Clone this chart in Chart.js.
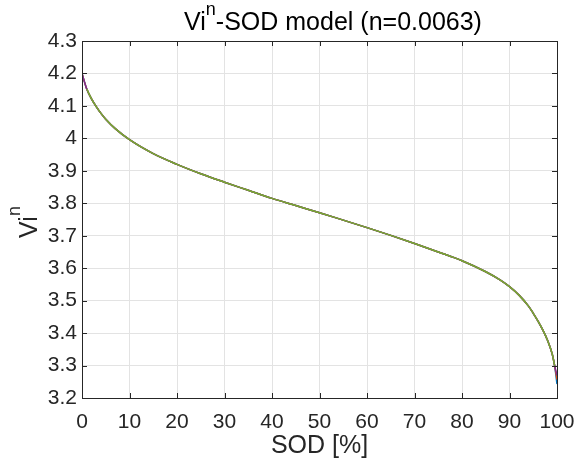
<!DOCTYPE html>
<html>
<head>
<meta charset="utf-8">
<script src="https://cdn.jsdelivr.net/npm/chart.js@4/dist/chart.umd.min.js"></script>
<style>
    body { margin: 0; background: #fff; }
    #wrap { width: 588px; height: 461px; }
</style>
</head>
<body>
<div id="wrap"><canvas id="viChart" width="588" height="461"></canvas></div>
<script>
// SOD [%] sample points
const sod = [0, 1, 2, 3, 4, 5, 7, 10, 15, 20, 25, 30, 35, 40, 45, 50, 55, 60, 65, 70,
    75, 80, 85, 88, 90, 92, 94, 95, 96, 97, 98, 99, 99.5, 100];
// Vi^n model curve (last point left out, see viEnd)
const viModel = [4.200, 4.152, 4.122, 4.098, 4.077, 4.059, 4.030, 3.996, 3.953, 3.920,
    3.891, 3.865, 3.840, 3.815, 3.793, 3.771, 3.748, 3.725, 3.701, 3.676,
    3.650, 3.623, 3.589, 3.564, 3.543, 3.517, 3.483, 3.461, 3.437, 3.410,
    3.378, 3.335, 3.300];
// where the overlapping curves end at SOD 100 (purple, orange, blue)
const viEnd = [3.270, 3.257, 3.243];
const seriesColors = ['#7E2F8E', '#D95319', '#0072BD'];
const yTicks = [3.2, 3.3, 3.4, 3.5, 3.6, 3.7, 3.8, 3.9, 4, 4.1, 4.2, 4.3];
const xTicks = [0, 10, 20, 30, 40, 50, 60, 70, 80, 90, 100];

const fontName = '"Liberation Sans", Arial, sans-serif';
const ink = '#262626';

// green curve first so it is drawn on top, without the first and last sample
const datasets = [{
    data: sod.slice(1, viModel.length).map((x, j) => ({ x: x, y: viModel[j + 1] })),
    borderColor: '#77AC30',
    borderWidth: 1.5,
    pointRadius: 0,
    cubicInterpolationMode: 'monotone'
}];
viEnd.forEach((end, i) => {
    datasets.push({
        data: sod.map((x, j) => ({ x: x, y: j < viModel.length ? viModel[j] : end })),
        borderColor: seriesColors[i],
        borderWidth: 1.5,
        pointRadius: 0,
        cubicInterpolationMode: 'monotone'
    });
});

// box, inward ticks, title and y label like a matlab figure
const matlabAxes = {
    id: 'matlabAxes',
    afterDraw(chart) {
        const ctx = chart.ctx;
        const a = chart.chartArea;
        const xs = chart.scales.x, ys = chart.scales.y;
        ctx.save();
        ctx.strokeStyle = ink;
        ctx.lineWidth = 1;
        ctx.strokeRect(Math.round(a.left) + 0.5, Math.round(a.top) + 0.5,
            Math.round(a.right - a.left), Math.round(a.bottom - a.top));
        ctx.beginPath();
        xTicks.forEach(v => {
            const px = Math.round(xs.getPixelForValue(v)) + 0.5;
            ctx.moveTo(px, a.bottom); ctx.lineTo(px, a.bottom - 5);
            ctx.moveTo(px, a.top); ctx.lineTo(px, a.top + 5);
        });
        yTicks.forEach(v => {
            const py = Math.round(ys.getPixelForValue(v)) + 0.5;
            ctx.moveTo(a.left, py); ctx.lineTo(a.left + 5, py);
            ctx.moveTo(a.right, py); ctx.lineTo(a.right - 5, py);
        });
        ctx.stroke();

        // title with superscript
        ctx.fillStyle = '#000';
        ctx.textBaseline = 'alphabetic';
        ctx.textAlign = 'left';
        const big = '25px ' + fontName, small = '18px ' + fontName;
        ctx.font = big;
        const w1 = ctx.measureText('Vi').width;
        const w3 = ctx.measureText('-SOD model (n=0.0063)').width;
        ctx.font = small;
        const w2 = ctx.measureText('n').width;
        const tx = 333 - (w1 + w2 + w3) / 2;
        ctx.font = big;
        ctx.fillText('Vi', tx, 30);
        ctx.font = small;
        ctx.fillText('n', tx + w1, 15);
        ctx.font = big;
        ctx.fillText('-SOD model (n=0.0063)', tx + w1 + w2, 30);

        // y axis label, rotated
        ctx.translate(37, 222);
        ctx.rotate(-Math.PI / 2);
        ctx.fillStyle = ink;
        ctx.font = big;
        const lw1 = ctx.measureText('Vi').width;
        ctx.font = small;
        const lw2 = ctx.measureText('n').width;
        const lx = -(lw1 + lw2) / 2;
        ctx.font = big;
        ctx.fillText('Vi', lx, 0);
        ctx.font = small;
        ctx.fillText('n', lx + lw1, -17);
        ctx.restore();
    }
};

new Chart(document.getElementById('viChart').getContext('2d'), {
    type: 'line',
    data: { datasets: datasets },
    options: {
        responsive: false,
        animation: false,
        layout: { padding: { top: 41, right: 31, left: 0, bottom: 0 } },
        plugins: {
            legend: { display: false },
            tooltip: { enabled: false }
        },
        scales: {
            x: {
                type: 'linear',
                min: 0,
                max: 100,
                afterBuildTicks: s => { s.ticks = xTicks.map(v => ({ value: v })); },
                afterFit: s => { s.height = 63; },
                grid: { color: '#e3e3e3', drawTicks: false },
                border: { display: false },
                ticks: { color: ink, font: { family: fontName, size: 21 }, padding: 12, maxRotation: 0 },
                title: {
                    display: true,
                    text: 'SOD [%]',
                    color: ink,
                    font: { family: fontName, size: 25 },
                    padding: { top: 0, bottom: 0 }
                }
            },
            y: {
                min: 3.2,
                max: 4.3,
                afterBuildTicks: s => { s.ticks = yTicks.map(v => ({ value: v })); },
                afterFit: s => { s.width = 82; },
                grid: { color: '#e3e3e3', drawTicks: false },
                border: { display: false },
                ticks: {
                    color: ink,
                    font: { family: fontName, size: 21 },
                    padding: 5,
                    callback: v => String(Number(v.toFixed(1)))
                }
            }
        }
    },
    plugins: [matlabAxes]
});
</script>
</body>
</html>
